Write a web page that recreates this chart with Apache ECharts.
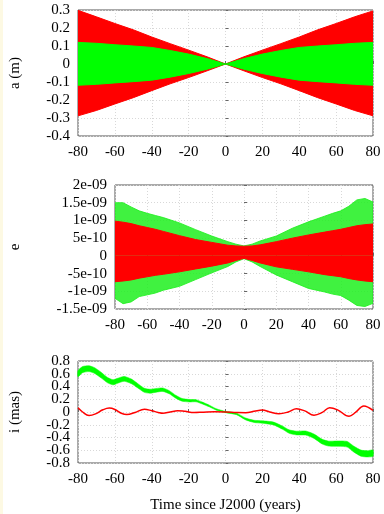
<!DOCTYPE html>
<html>
<head>
<meta charset="utf-8">
<script src="https://cdn.jsdelivr.net/npm/echarts@6/dist/echarts.min.js"></script>
<style>
  html, body { margin: 0; padding: 0; background: #fff; }
  #chart { width: 384px; height: 514px; }
</style>
</head>
<body>
<div id="chart"></div>
<script>
// panel 1: semi-major axis a (m), envelopes of the two runs
const tA = [-80, -70, -60, -50, -40, -30, -20, -10, 0, 10, 20, 30, 40, 50, 60, 70, 80]
const aRedHi = [0.298, 0.262, 0.225, 0.19, 0.15, 0.113, 0.077, 0.04, 0, 0.04, 0.077, 0.113, 0.15, 0.19, 0.225, 0.262, 0.295]
const aRedLo = [-0.288, -0.258, -0.222, -0.187, -0.148, -0.11, -0.075, -0.038, 0, -0.038, -0.075, -0.11, -0.148, -0.187, -0.222, -0.258, -0.288]
const aGreenHi = [0.12, 0.115, 0.107, 0.1, 0.092, 0.075, 0.055, 0.03, 0, 0.03, 0.055, 0.075, 0.092, 0.1, 0.107, 0.115, 0.12]
const aGreenLo = [-0.118, -0.113, -0.105, -0.098, -0.09, -0.073, -0.053, -0.029, 0, -0.029, -0.053, -0.073, -0.09, -0.098, -0.105, -0.113, -0.118]

// panel 2: eccentricity e
const tE = [-80, -75, -70, -65, -60, -55, -50, -40, -30, -20, -10, -5, 0, 5, 10, 20, 30, 40, 50, 55, 60, 65, 70, 75, 80]
const eGreenHi = [1.5e-9, 1.5e-9, 1.38e-9, 1.27e-9, 1.2e-9, 1.14e-9, 1.08e-9, 0.93e-9, 0.74e-9, 0.56e-9, 0.4e-9, 0.33e-9, 0.28e-9,
  0.33e-9, 0.42e-9, 0.56e-9, 0.78e-9, 0.96e-9, 1.12e-9, 1.2e-9, 1.27e-9, 1.4e-9, 1.58e-9, 1.62e-9, 1.52e-9]
const eGreenLo = [-1.2e-9, -1.35e-9, -1.3e-9, -1.15e-9, -1.1e-9, -1.05e-9, -0.97e-9, -0.86e-9, -0.67e-9, -0.48e-9, -0.3e-9, -0.17e-9, -0.08e-9,
  -0.17e-9, -0.3e-9, -0.54e-9, -0.73e-9, -0.92e-9, -1.02e-9, -1.08e-9, -1.12e-9, -1.25e-9, -1.4e-9, -1.43e-9, -1.34e-9]
const eRedHi = [0.98e-9, 0.95e-9, 0.91e-9, 0.85e-9, 0.8e-9, 0.75e-9, 0.69e-9, 0.57e-9, 0.46e-9, 0.38e-9, 0.3e-9, 0.28e-9, 0.27e-9,
  0.28e-9, 0.31e-9, 0.4e-9, 0.5e-9, 0.59e-9, 0.67e-9, 0.71e-9, 0.75e-9, 0.8e-9, 0.85e-9, 0.88e-9, 0.9e-9]
const eRedLo = [-0.73e-9, -0.71e-9, -0.68e-9, -0.63e-9, -0.59e-9, -0.55e-9, -0.52e-9, -0.45e-9, -0.37e-9, -0.29e-9, -0.2e-9, -0.13e-9, -0.07e-9,
  -0.13e-9, -0.2e-9, -0.31e-9, -0.38e-9, -0.45e-9, -0.53e-9, -0.56e-9, -0.59e-9, -0.64e-9, -0.68e-9, -0.71e-9, -0.73e-9]

// panel 3: inclination i (mas)
const tIRed = [-80, -77.5, -74, -70.5, -66.5, -63, -60, -56.5, -53.5, -49, -44, -40, -36.5, -34, -30, -26, -22, -17, -12, -6, 0,
  6, 11, 15.5, 20, 24, 29, 34, 38.5, 43, 48, 52.5, 56.5, 61, 67, 70.5, 75, 80]
const iRed = [0.065, 0.0, -0.055, -0.03, 0.035, 0.062, 0.04, -0.02, -0.04, -0.007, 0.042, 0.02, -0.007, -0.02, 0.0, 0.02, 0.01, -0.008, -0.003, 0.002, 0,
  -0.007, -0.01, 0.01, 0.03, 0.0, -0.027, 0.0, 0.05, 0.017, -0.05, -0.007, 0.067, 0.03, -0.067, -0.007, 0.095, 0.025]
const tIGreen = [-80, -77.5, -74, -71, -67.5, -64, -61, -58.5, -55, -51, -47.5, -44, -41, -37.5, -34, -30.5, -27, -23.5, -19.5, -16, -12.5, -8.5, -5, 0,
  6, 11, 15.5, 20, 26, 31, 34.5, 38.5, 43.5, 48, 52.5, 56, 61.5, 66, 69.5, 73.5, 77, 80]
const iGreen = [0.6, 0.665, 0.68, 0.65, 0.58, 0.5, 0.466, 0.49, 0.52, 0.48, 0.41, 0.34, 0.326, 0.34, 0.35, 0.31, 0.24, 0.19, 0.177, 0.177, 0.14, 0.09, 0.04, 0,
  -0.03, -0.11, -0.147, -0.157, -0.18, -0.247, -0.307, -0.33, -0.33, -0.38, -0.466, -0.496, -0.496, -0.506, -0.58, -0.646, -0.656, -0.646]
// half thickness of the green trace (fast oscillation smeared into a band)
const iGreenHW = [0.048, 0.048, 0.046, 0.045, 0.044, 0.042, 0.04, 0.039, 0.038, 0.036, 0.034, 0.032, 0.031, 0.029, 0.027, 0.025, 0.023, 0.021, 0.019, 0.017, 0.015, 0.013, 0.011, 0.01,
  0.012, 0.015, 0.017, 0.019, 0.022, 0.025, 0.027, 0.029, 0.032, 0.034, 0.037, 0.039, 0.042, 0.044, 0.046, 0.048, 0.049, 0.049]

const xTicks = [-80, 80, 20]
// i-axis labels next to the ends, put on an overlaid axis so none gets hidden
const iEndNeighbours = [-0.6, 0.6]

const FONT = 'Liberation Serif'
const RED = '#ff0000'
const GREEN = '#00ff00'

const zip = (xs, ys) => xs.map((x, i) => [x, ys[i]])
const round = v => Number(v.toFixed(6))

function expLabel(v) {
  if (Math.abs(v) < 1e-15) return '0'
  const s = Number(v.toPrecision(3)).toExponential()
  return s.replace(/e([+-])(\d)$/, 'e$10$2')
}

// area filled from the curve to zero
function fillToZero(xs, ys, color, idx, opacity) {
  return {
    type: 'line',
    xAxisIndex: idx,
    yAxisIndex: idx,
    data: zip(xs, ys),
    symbol: 'none',
    silent: true,
    lineStyle: { color: color, width: 1, opacity: opacity },
    areaStyle: { color: color, opacity: opacity, origin: 0 }
  }
}

const chart = echarts.init(document.getElementById('chart'), null, { renderer: 'canvas' })

const grids = [
  { left: 77, right: 11, top: 10, height: 126 },
  { left: 114, right: 11, top: 185, height: 124 },
  { left: 77, right: 11, top: 361, height: 107 }
]

const axisText = { color: '#000', fontFamily: FONT, fontSize: 15 }
const splitLine = { show: true, lineStyle: { color: '#d8d8d8', type: [1, 2], width: 1 } }
const axisTick = { show: true, inside: true, length: 3, lineStyle: { color: '#666' } }

const xAxes = grids.map((g, i) => ({
  type: 'value',
  gridIndex: i,
  min: xTicks[0],
  max: xTicks[1],
  interval: xTicks[2],
  axisLine: { show: false },
  axisTick: axisTick,
  splitLine: splitLine,
  axisLabel: Object.assign({ margin: 9 }, axisText),
  name: i === 2 ? 'Time since J2000 (years)' : '',
  nameLocation: 'middle',
  nameGap: 35,
  nameTextStyle: axisText
}))

const isNeighbour = v => iEndNeighbours.some(n => Math.abs(n - v) < 1e-9)

const yAxes = [
  { min: -0.4, max: 0.3, interval: 0.1, name: 'a (m)', nameGap: 55 },
  { min: -1.5e-9, max: 2e-9, interval: 5e-10, name: 'e', nameGap: 92, fmt: expLabel },
  { min: -0.8, max: 0.8, interval: 0.2, name: 'i (mas)', nameGap: 55, fmt: v => (isNeighbour(v) ? '' : String(round(v))) }
].map((a, i) => ({
  type: 'value',
  gridIndex: i,
  min: a.min,
  max: a.max,
  interval: a.interval,
  axisLine: { show: false },
  axisTick: axisTick,
  splitLine: splitLine,
  axisLabel: Object.assign({ margin: 8, showMinLabel: true, showMaxLabel: true, formatter: a.fmt || (v => String(round(v))) }, axisText),
  name: a.name,
  nameLocation: 'middle',
  nameRotate: 90,
  nameGap: a.nameGap,
  nameTextStyle: axisText
}))

// overlay axis on panel 3 carrying only -0.6 and 0.6
yAxes.push({
  type: 'value',
  gridIndex: 2,
  position: 'left',
  min: -0.8,
  max: 0.8,
  interval: 0.2,
  axisLine: { show: false },
  axisTick: { show: false },
  splitLine: { show: false },
  axisLabel: Object.assign({ margin: 8, showMinLabel: false, showMaxLabel: false, formatter: v => (isNeighbour(v) ? String(round(v)) : '') }, axisText)
})

// green band of panel 3: upper edge forward, lower edge back
const bandUpper = zip(tIGreen, iGreen.map((v, k) => v + iGreenHW[k]))
const bandLower = zip(tIGreen, iGreen.map((v, k) => v - iGreenHW[k])).reverse()

const series = [
  // a: red wide band under the green one
  fillToZero(tA, aRedHi, RED, 0, 1),
  fillToZero(tA, aRedLo, RED, 0, 1),
  fillToZero(tA, aGreenHi, GREEN, 0, 1),
  fillToZero(tA, aGreenLo, GREEN, 0, 1),
  // e: green wide band under the red one
  fillToZero(tE, eGreenHi, '#1ef01e', 1, 0.85),
  fillToZero(tE, eGreenLo, '#1ef01e', 1, 0.85),
  fillToZero(tE, eRedHi, RED, 1, 1),
  fillToZero(tE, eRedLo, RED, 1, 1),
  // i: green thick trace
  {
    type: 'custom', xAxisIndex: 2, yAxisIndex: 2, silent: true,
    data: [0],
    renderItem: (params, api) => ({
      type: 'polygon',
      shape: { points: bandUpper.concat(bandLower).map(p => api.coord(p)), smooth: 0.2 },
      style: { fill: GREEN, stroke: GREEN, lineWidth: 0.5 }
    })
  },
  {
    type: 'line', xAxisIndex: 2, yAxisIndex: 2,
    data: zip(tIRed, iRed),
    symbol: 'none', smooth: 0.4, silent: true,
    lineStyle: { color: RED, width: 1.5 }
  }
]

chart.setOption({
  animation: false,
  backgroundColor: '#fff',
  grid: grids.map(g => Object.assign({ show: true, borderColor: '#555', borderWidth: 1, backgroundColor: 'transparent' }, g)),
  xAxis: xAxes,
  yAxis: yAxes,
  series: series,
  graphic: [
    { type: 'rect', left: 0, top: 0, shape: { width: 3, height: 514 }, style: { fill: '#fdf9e3' }, silent: true }
  ]
})
</script>
</body>
</html>
